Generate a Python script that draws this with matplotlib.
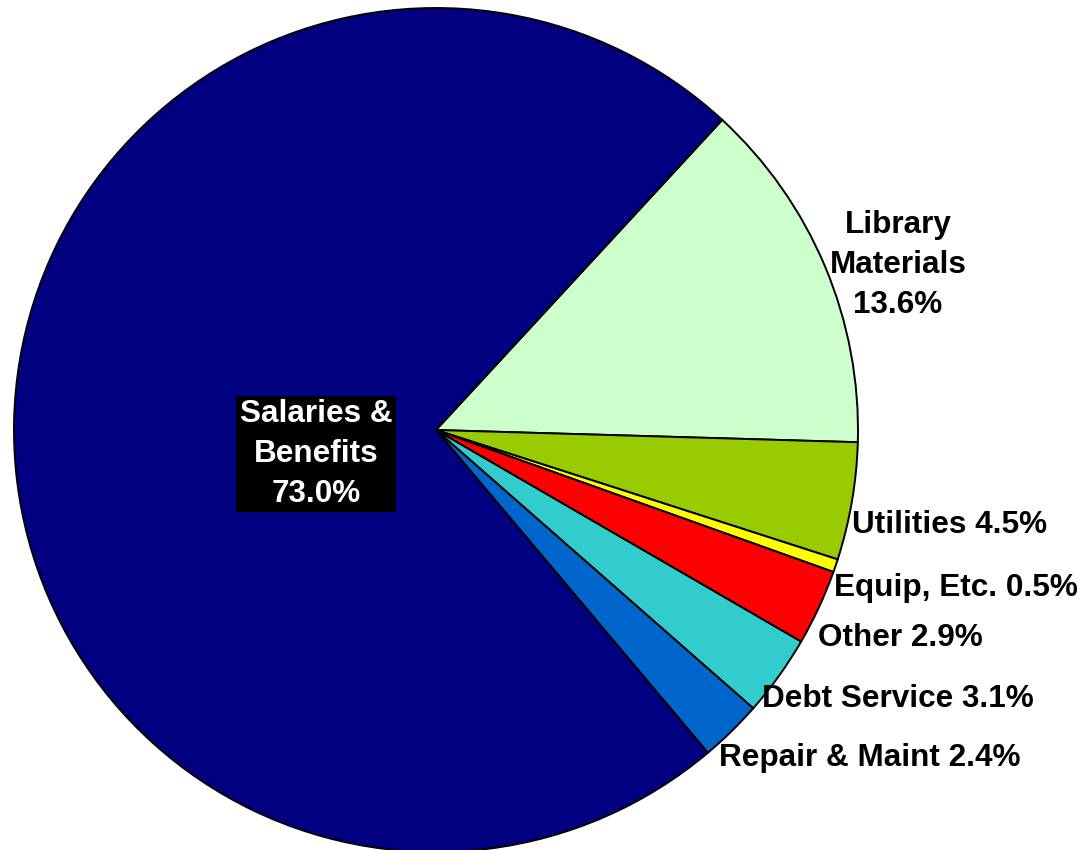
import matplotlib.pyplot as plt
import numpy as np

# 데이터
categories = ["Library\nMaterials", "Utilities", "Equip, Etc.", "Other",
              "Debt Service", "Repair & Maint", "Salaries &\nBenefits"]
shares = [13.6, 4.5, 0.5, 2.9, 3.1, 2.4, 73.0]
colors = ["#CCFFCC", "#99CC00", "#FFFF00", "#FF0000", "#33CCCC", "#0066CC", "#000080"]

W, H = 1092, 850
cx, cy, R = 436, 430, 422  # 파이 중심/반지름 (픽셀)

fig = plt.figure(figsize=(W / 100, H / 100), dpi=100)
ax = fig.add_axes([0, 0, 1, 1])

ax.pie(shares, colors=colors, startangle=47.3, counterclock=False, radius=1.0,
       wedgeprops=dict(edgecolor="black", linewidth=1.4))

# pie()가 축 범위를 바꾸므로 나중에 설정
ax.set_xlim(-cx / R, (W - cx) / R)
ax.set_ylim(-(H - cy) / R, cy / R)
ax.set_aspect("equal")
ax.axis("off")


def px(x, y):
    return (x - cx) / R, (cy - y) / R


font = dict(family="Liberation Sans", weight="bold", fontsize=22.7)

# 라벨 위치 (픽셀 기준)
label_pos = [(898, 265, "center"), (852, 525, "left"), (834, 588, "left"),
             (818, 638, "left"), (762, 699, "left"), (719, 758, "left")]

for (x, y, ha), name, val in zip(label_pos, categories[:-1], shares[:-1]):
    sep = "\n" if "\n" in name else " "
    ax.text(*px(x, y), f"{name}{sep}{val:.1f}%", ha=ha, va="center",
            multialignment="center", linespacing=1.42, color="black", **font)

ax.text(*px(316, 454), f"{categories[-1]}\n{shares[-1]:.1f}%", ha="center", va="center",
        multialignment="center", linespacing=1.42, color="white",
        bbox=dict(boxstyle="square,pad=0.12", facecolor="black", edgecolor="none"), **font)

fig.savefig("out.png", dpi=100, facecolor="white")
